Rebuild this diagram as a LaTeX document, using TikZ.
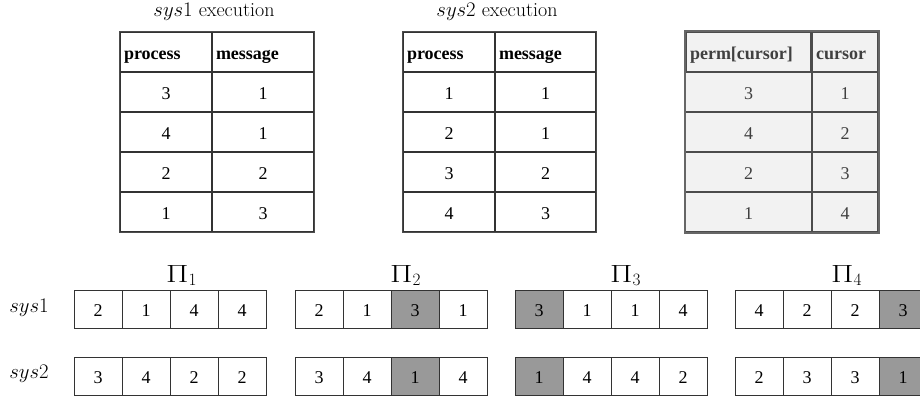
\documentclass[tikz,border=0pt]{standalone}
\usepackage[no-math]{fontspec}
\newfontfamily\tabfont{Liberation Serif}
\usepackage{tikz}

\newcommand\widePi{\mbox{\scalebox{1.3}[1]{$\Pi$}}}

\tikzset{
  tcell/.style={draw=black!80, line width=1.2pt, minimum height=40pt, inner xsep=4pt, inner ysep=0pt, text height=15pt, text depth=0pt, font=\tabfont\fontsize{18}{22}\selectfont},
  thead/.style={tcell, align=left, font=\tabfont\bfseries\fontsize{18}{22}\selectfont},
  pcell/.style={tcell, fill=black!5, draw=black!70, text=black!75},
  phead/.style={thead, fill=black!5, draw=black!70, text=black!75},
  acell/.style={draw=black!80, line width=1pt, minimum width=48pt, minimum height=38pt, inner sep=0pt, text height=13pt, text depth=0pt, font=\tabfont\fontsize{18}{22}\selectfont},
  shaded/.style={acell, fill=black!40},
  lbl/.style={font=\fontsize{20}{24}\selectfont, inner sep=0pt},
  pilbl/.style={font=\fontsize{23}{26}\selectfont, inner sep=0pt, anchor=base west}
}

\begin{document}
\begin{tikzpicture}[x=1pt,y=-1pt]
\useasboundingbox (0,0) rectangle (920,400);

% titles
\node[lbl, anchor=base] (title1) at (214,16) {$sys1$ execution};
\node[lbl, anchor=base] (title2) at (497,16) {$sys2$ execution};

% sys1 execution
\node[thead, text width=84pt] (ex1h1) at (166,52) {process};
\node[thead, text width=94pt] (ex1h2) at (263,52) {message};
\node[tcell, minimum width=92pt] (ex1r1a) at (166,92) {3};
\node[tcell, minimum width=102pt] (ex1r1b) at (263,92) {1};
\node[tcell, minimum width=92pt] (ex1r2a) at (166,132) {4};
\node[tcell, minimum width=102pt] (ex1r2b) at (263,132) {1};
\node[tcell, minimum width=92pt] (ex1r3a) at (166,172) {2};
\node[tcell, minimum width=102pt] (ex1r3b) at (263,172) {2};
\node[tcell, minimum width=92pt] (ex1r4a) at (166,212) {1};
\node[tcell, minimum width=102pt] (ex1r4b) at (263,212) {3};
\draw[black!70, line width=1.6pt] (ex1h1.north west) rectangle (ex1r4b.south east);

% sys2 execution
\node[thead, text width=84pt] (ex2h1) at (449,52) {process};
\node[thead, text width=93pt] (ex2h2) at (545.5,52) {message};
\node[tcell, minimum width=92pt] (ex2r1a) at (449,92) {1};
\node[tcell, minimum width=101pt] (ex2r1b) at (545.5,92) {1};
\node[tcell, minimum width=92pt] (ex2r2a) at (449,132) {2};
\node[tcell, minimum width=101pt] (ex2r2b) at (545.5,132) {1};
\node[tcell, minimum width=92pt] (ex2r3a) at (449,172) {3};
\node[tcell, minimum width=101pt] (ex2r3b) at (545.5,172) {2};
\node[tcell, minimum width=92pt] (ex2r4a) at (449,212) {4};
\node[tcell, minimum width=101pt] (ex2r4b) at (545.5,212) {3};
\draw[black!70, line width=1.6pt] (ex2h1.north west) rectangle (ex2r4b.south east);

% permutation table
\node[phead, text width=117pt] (permh1) at (748.5,52) {perm[cursor]};
\node[phead, text width=58pt] (permh2) at (845,52) {cursor};
\node[pcell, minimum width=127pt] (permr1a) at (748.5,92) {3};
\node[pcell, minimum width=66pt] (permr1b) at (845,92) {1};
\node[pcell, minimum width=127pt] (permr2a) at (748.5,132) {4};
\node[pcell, minimum width=66pt] (permr2b) at (845,132) {2};
\node[pcell, minimum width=127pt] (permr3a) at (748.5,172) {2};
\node[pcell, minimum width=66pt] (permr3b) at (845,172) {3};
\node[pcell, minimum width=127pt] (permr4a) at (748.5,212) {1};
\node[pcell, minimum width=66pt] (permr4b) at (845,212) {4};
\draw[black!60, line width=2pt] (permh1.north west) rectangle (permr4b.south east);

% row labels
\node[lbl, anchor=base] (sysa) at (29,312) {$sys1$};
\node[lbl, anchor=base] (sysb) at (29,378) {$sys2$};

% Pi labels
\node[pilbl] (pi1) at (166,282) {$\widePi_1$};
\node[pilbl] (pi2) at (390,282) {$\widePi_2$};
\node[pilbl] (pi3) at (610,282) {$\widePi_3$};
\node[pilbl] (pi4) at (831,282) {$\widePi_4$};

% Pi_1
\node[acell] (s1p1c1) at (98,309.5) {2};
\node[acell] (s1p1c2) at (146,309.5) {1};
\node[acell] (s1p1c3) at (194,309.5) {4};
\node[acell] (s1p1c4) at (242,309.5) {4};
\node[acell] (s2p1c1) at (98,376.5) {3};
\node[acell] (s2p1c2) at (146,376.5) {4};
\node[acell] (s2p1c3) at (194,376.5) {2};
\node[acell] (s2p1c4) at (242,376.5) {2};

% Pi_2
\node[acell] (s1p2c1) at (319,309.5) {2};
\node[acell] (s1p2c2) at (367,309.5) {1};
\node[shaded] (s1p2c3) at (415,309.5) {3};
\node[acell] (s1p2c4) at (463,309.5) {1};
\node[acell] (s2p2c1) at (319,376.5) {3};
\node[acell] (s2p2c2) at (367,376.5) {4};
\node[shaded] (s2p2c3) at (415,376.5) {1};
\node[acell] (s2p2c4) at (463,376.5) {4};

% Pi_3
\node[shaded] (s1p3c1) at (539,309.5) {3};
\node[acell] (s1p3c2) at (587,309.5) {1};
\node[acell] (s1p3c3) at (635,309.5) {1};
\node[acell] (s1p3c4) at (683,309.5) {4};
\node[shaded] (s2p3c1) at (539,376.5) {1};
\node[acell] (s2p3c2) at (587,376.5) {4};
\node[acell] (s2p3c3) at (635,376.5) {4};
\node[acell] (s2p3c4) at (683,376.5) {2};

% Pi_4
\node[acell] (s1p4c1) at (759,309.5) {4};
\node[acell] (s1p4c2) at (807,309.5) {2};
\node[acell] (s1p4c3) at (855,309.5) {2};
\node[shaded] (s1p4c4) at (903,309.5) {3};
\node[acell] (s2p4c1) at (759,376.5) {2};
\node[acell] (s2p4c2) at (807,376.5) {3};
\node[acell] (s2p4c3) at (855,376.5) {3};
\node[shaded] (s2p4c4) at (903,376.5) {1};
\end{tikzpicture}
\end{document}
